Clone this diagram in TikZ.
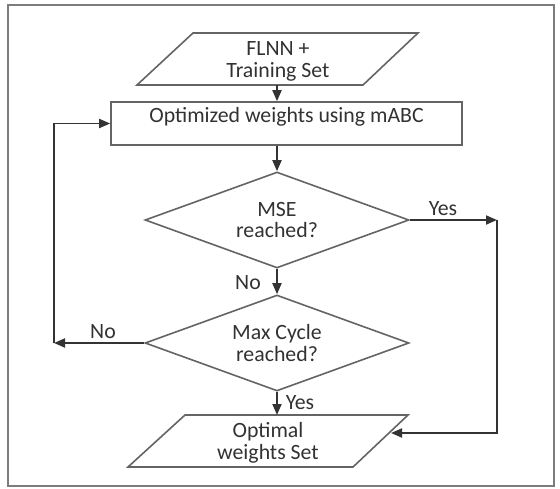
\documentclass[tikz,border=0pt]{standalone}
\usepackage{fontspec}
\setmainfont{Carlito}
\usetikzlibrary{shapes.geometric,arrows.meta}
\definecolor{ink}{RGB}{50,50,50}
\definecolor{edge}{RGB}{100,100,100}
\definecolor{frame}{RGB}{125,125,125}
\tikzset{
  txt/.style={font=\fontsize{21.8}{21.5}\selectfont, text=ink, align=center, inner sep=0pt},
  shapeline/.style={draw=edge, line width=1.6pt},
  arr/.style={draw=black!80, line width=1.8pt, -{Triangle[length=11pt,width=9pt]}},
  iobox/.style={txt, minimum width=225pt, minimum height=52pt},
  procbox/.style={txt, shapeline, rectangle, minimum width=351pt, minimum height=43pt, text height=15pt, text depth=17pt},
  decision/.style={txt, shapeline, diamond, aspect=2.75, minimum width=264pt, minimum height=96pt},
  lbl/.style={font=\fontsize{21.8}{21.5}\selectfont, text=ink, inner sep=0pt}
}
\begin{document}
\begin{tikzpicture}[x=1pt,y=-1pt]
\useasboundingbox (0,0) rectangle (560,488);
% outer frame
\draw[draw=frame, line width=2.6pt] (8,5) rectangle (554,486);

% input parallelogram
\draw[shapeline] (193,33) -- (418,33) -- (363,85) -- (137,85) -- cycle;
\node[txt] (inp) at (278,61.5) {FLNN +\\Training Set};

% optimisation step
\node[procbox] (opt) at (286.5,123.5) {Optimized weights using mABC};

% decisions
\node[decision] (mse) at (277,220) {MSE\\reached?};
\node[decision] (mc) at (277,343) {Max Cycle\\reached?};

% output parallelogram
\draw[shapeline] (185,415) -- (408,415) -- (353,467) -- (128,467) -- cycle;
\node[txt] (outp) at (268,443) {Optimal\\weights Set};

% routing points
\coordinate (itop) at (277,85);
\coordinate (otop) at (277,415);
\coordinate (yc) at (497,220);
\coordinate (oin) at (391,433);
\coordinate (nc) at (54,343);

% connectors
\draw[arr] (itop) -- (itop |- opt.north);
\draw[arr] (opt.south -| mse.north) -- (mse.north);
\draw[arr] (mse.south) -- (mc.north);
\draw[arr] (mse.east) -- (yc);
\draw[arr] (yc) -- (yc |- oin) -- (oin);
\draw[arr] (mc.west) -- (nc);
\draw[arr] (nc) -- (nc |- opt.west) -- (opt.west);
\draw[arr] (mc.south) -- (otop);

% branch labels
\node[lbl] (l1) at (443,209) {Yes};
\node[lbl] (l2) at (248,283) {No};
\node[lbl] (l3) at (103,332) {No};
\node[lbl] (l4) at (300,403) {Yes};
\end{tikzpicture}
\end{document}
